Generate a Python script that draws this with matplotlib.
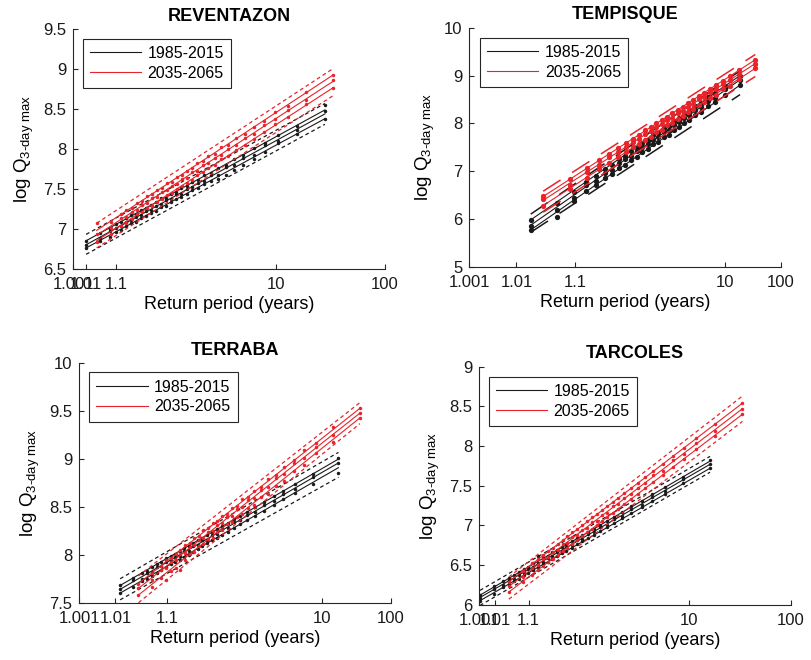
import matplotlib
matplotlib.use("Agg")
import matplotlib.pyplot as plt

plt.rcParams['font.family'] = ['Liberation Sans', 'DejaVu Sans']
plt.rcParams['mathtext.fontset'] = 'custom'
plt.rcParams['mathtext.rm'] = 'Liberation Sans'
plt.rcParams['mathtext.it'] = 'Liberation Sans:italic'
plt.rcParams['mathtext.bf'] = 'Liberation Sans:bold'

# Return-period tick labels (Gumbel-type probability axis, 0-100 = axis span)
period_labels = ['1.001', '1.01', '1.1', '10', '100']

# ---------------- REVENTAZON ----------------
rev_ticks = [0, 4.1, 13.7, 65.1, 100]
rev_hist_x = [4.1, 8.6, 11.8, 13.6, 15.3, 17.0, 18.6, 20.2, 21.8, 23.4, 25.0, 26.6, 28.2, 29.8, 31.4, 33.0,
              34.7, 36.4, 38.2, 40.0, 42.0, 44.1, 46.4, 48.9, 51.6, 54.6, 58.0, 61.5, 65.7, 71.7, 80.8]
rev_hist_hi = [6.85, 6.95, 7.00, 7.06, 7.08, 7.13, 7.17, 7.18, 7.24, 7.26, 7.30, 7.33, 7.38, 7.39, 7.44, 7.46,
               7.51, 7.53, 7.59, 7.61, 7.67, 7.70, 7.76, 7.80, 7.88, 7.92, 8.01, 8.07, 8.18, 8.29, 8.55]
rev_hist_mid = [6.80, 6.88, 6.97, 7.01, 7.03, 7.09, 7.11, 7.15, 7.17, 7.22, 7.24, 7.29, 7.31, 7.36, 7.37, 7.43,
                7.44, 7.50, 7.52, 7.58, 7.60, 7.67, 7.68, 7.77, 7.80, 7.89, 7.93, 8.05, 8.10, 8.24, 8.47]
rev_hist_lo = [6.76, 6.85, 6.90, 6.96, 6.98, 7.03, 7.07, 7.08, 7.13, 7.16, 7.20, 7.22, 7.27, 7.29, 7.33, 7.37,
               7.40, 7.43, 7.48, 7.51, 7.56, 7.60, 7.63, 7.68, 7.74, 7.80, 7.88, 7.96, 8.08, 8.19, 8.38]
rev_hist_fit_start = [6.85, 6.80, 6.76]
rev_hist_fit_end = [8.49, 8.44, 8.38]
rev_hist_ci_start = [6.93, 6.68]
rev_hist_ci_end = [8.57, 8.31]

rev_fut_x = [7.5, 12.0, 15.2, 17.0, 18.7, 20.4, 22.0, 23.6, 25.2, 26.8, 28.4, 30.0, 31.6, 33.2, 34.8, 36.4,
             38.1, 39.8, 41.6, 43.4, 45.4, 47.5, 49.8, 52.3, 55.0, 58.0, 61.3, 64.8, 68.9, 74.8, 83.5]
rev_fut_hi = [7.07, 7.09, 7.19, 7.24, 7.26, 7.32, 7.35, 7.41, 7.43, 7.49, 7.51, 7.57, 7.59, 7.65, 7.67, 7.73,
              7.76, 7.82, 7.85, 7.91, 7.94, 8.02, 8.05, 8.14, 8.19, 8.28, 8.35, 8.46, 8.54, 8.71, 8.93]
rev_fut_mid = [6.93, 7.01, 7.13, 7.15, 7.21, 7.24, 7.30, 7.32, 7.38, 7.40, 7.46, 7.48, 7.54, 7.56, 7.62, 7.64,
               7.71, 7.73, 7.80, 7.82, 7.89, 7.93, 8.00, 8.05, 8.14, 8.19, 8.30, 8.37, 8.49, 8.62, 8.86]
rev_fut_lo = [6.84, 6.94, 7.04, 7.07, 7.12, 7.18, 7.21, 7.26, 7.29, 7.34, 7.37, 7.42, 7.45, 7.50, 7.53, 7.58,
              7.61, 7.67, 7.71, 7.76, 7.80, 7.87, 7.91, 7.99, 8.05, 8.13, 8.21, 8.31, 8.40, 8.56, 8.77]
rev_fut_fit_start = [6.98, 6.92, 6.85]
rev_fut_fit_end = [8.93, 8.85, 8.77]
rev_fut_ci_start = [7.07, 6.76]
rev_fut_ci_end = [9.01, 8.67]

# ---------------- TEMPISQUE ----------------
tem_ticks = [0, 15.1, 34.0, 82.3, 100]
tem_hist_x = [19.7, 28.2, 33.6, 37.4, 40.6, 43.5, 45.9, 48.1, 50.0, 51.9, 53.8, 55.6, 57.3, 59.1, 60.7, 62.4,
              64.0, 65.6, 67.4, 69.1, 70.7, 72.6, 74.5, 76.7, 79.0, 82.0, 87.0]
tem_hist_hi = [5.98, 6.33, 6.56, 6.78, 6.90, 7.05, 7.13, 7.25, 7.32, 7.43, 7.49, 7.59, 7.65, 7.75, 7.80, 7.90,
               7.95, 8.05, 8.11, 8.20, 8.26, 8.36, 8.43, 8.55, 8.63, 8.79, 9.00]
tem_hist_mid = [5.85, 6.19, 6.44, 6.70, 6.80, 6.97, 7.03, 7.16, 7.25, 7.31, 7.42, 7.50, 7.56, 7.66, 7.71, 7.81,
                7.86, 7.96, 8.02, 8.11, 8.17, 8.27, 8.34, 8.46, 8.53, 8.71, 8.90]
tem_hist_lo = [5.77, 6.05, 6.38, 6.58, 6.71, 6.86, 6.94, 7.06, 7.13, 7.24, 7.30, 7.40, 7.46, 7.56, 7.61, 7.71,
               7.76, 7.86, 7.92, 8.01, 8.07, 8.17, 8.24, 8.36, 8.44, 8.60, 8.80]
tem_hist_fit_start = [5.98, 5.87, 5.77]
tem_hist_fit_end = [9.00, 8.91, 8.80]
tem_hist_ci_start = [6.10, 5.72]
tem_hist_ci_end = [9.10, 8.60]

tem_fut_x = [23.7, 32.3, 37.8, 41.6, 44.9, 47.8, 50.3, 52.5, 54.4, 56.3, 58.3, 60.1, 61.8, 63.6, 65.2, 67.0,
             68.6, 70.2, 72.0, 73.8, 75.4, 77.3, 79.2, 81.5, 83.8, 86.8, 91.9]
tem_fut_hi = [6.47, 6.83, 7.06, 7.23, 7.36, 7.49, 7.59, 7.68, 7.76, 7.85, 7.92, 8.00, 8.07, 8.14, 8.21, 8.28,
              8.35, 8.42, 8.49, 8.57, 8.64, 8.72, 8.80, 8.89, 8.99, 9.11, 9.32]
tem_fut_mid = [6.41, 6.70, 6.99, 7.12, 7.29, 7.41, 7.50, 7.61, 7.67, 7.77, 7.83, 7.93, 7.98, 8.07, 8.12, 8.21,
               8.26, 8.35, 8.40, 8.50, 8.55, 8.65, 8.71, 8.82, 8.90, 9.04, 9.24]
tem_fut_lo = [6.27, 6.62, 6.86, 7.04, 7.16, 7.30, 7.39, 7.50, 7.56, 7.66, 7.72, 7.82, 7.87, 7.96, 8.01, 8.10,
              8.15, 8.24, 8.29, 8.39, 8.44, 8.54, 8.60, 8.71, 8.79, 8.93, 9.15]
tem_fut_fit_start = [6.47, 6.39, 6.28]
tem_fut_fit_end = [9.33, 9.25, 9.15]
tem_fut_ci_start = [6.58, 6.14]
tem_fut_ci_end = [9.44, 8.98]

# ---------------- TERRABA ----------------
ter_ticks = [0, 11.6, 28.2, 77.8, 100]
ter_hist_x = [13.1, 17.2, 20.1, 21.8, 23.3, 24.9, 26.3, 27.8, 29.3, 30.7, 32.2, 33.6, 35.1, 36.6, 38.1, 39.5,
              41.1, 42.6, 44.2, 45.9, 47.7, 49.6, 51.7, 54.0, 56.5, 59.2, 62.4, 65.5, 69.4, 74.9, 83.2]
ter_hist_hi = [7.68, 7.76, 7.81, 7.83, 7.87, 7.90, 7.93, 7.97, 7.99, 8.01, 8.04, 8.07, 8.09, 8.12, 8.15, 8.18,
               8.21, 8.24, 8.27, 8.30, 8.33, 8.37, 8.41, 8.45, 8.50, 8.55, 8.61, 8.67, 8.74, 8.84, 9.01]
ter_hist_mid = [7.64, 7.74, 7.75, 7.81, 7.82, 7.87, 7.88, 7.93, 7.94, 7.98, 7.99, 8.04, 8.04, 8.09, 8.10, 8.15,
                8.16, 8.21, 8.22, 8.27, 8.28, 8.34, 8.36, 8.42, 8.45, 8.52, 8.56, 8.64, 8.69, 8.81, 8.96]
ter_hist_lo = [7.60, 7.66, 7.73, 7.75, 7.78, 7.81, 7.84, 7.87, 7.90, 7.92, 7.95, 7.98, 8.00, 8.03, 8.06, 8.09,
               8.12, 8.15, 8.18, 8.21, 8.24, 8.28, 8.32, 8.36, 8.41, 8.46, 8.52, 8.58, 8.65, 8.74, 8.85]
ter_hist_fit_start = [7.68, 7.64, 7.60]
ter_hist_fit_end = [9.00, 8.96, 8.91]
ter_hist_ci_start = [7.75, 7.53]
ter_hist_ci_end = [9.07, 8.81]

ter_fut_x = [19.0, 23.2, 26.1, 27.8, 29.4, 30.9, 32.4, 33.9, 35.4, 36.8, 38.3, 39.8, 41.3, 42.8, 44.3, 45.7,
             47.4, 48.9, 50.6, 52.3, 54.1, 56.0, 58.2, 60.5, 63.0, 65.8, 69.0, 72.2, 76.1, 81.6, 90.1]
ter_fut_hi = [7.70, 7.81, 7.88, 7.95, 7.97, 8.01, 8.05, 8.10, 8.12, 8.18, 8.20, 8.26, 8.28, 8.33, 8.35, 8.41,
              8.43, 8.49, 8.51, 8.58, 8.60, 8.67, 8.71, 8.79, 8.83, 8.92, 8.99, 9.09, 9.17, 9.33, 9.53]
ter_fut_mid = [7.65, 7.74, 7.84, 7.86, 7.93, 7.95, 8.01, 8.02, 8.08, 8.10, 8.16, 8.18, 8.24, 8.25, 8.31, 8.33,
               8.40, 8.41, 8.48, 8.50, 8.57, 8.59, 8.68, 8.71, 8.80, 8.84, 8.96, 9.01, 9.13, 9.25, 9.48]
ter_fut_lo = [7.58, 7.66, 7.76, 7.74, 7.83, 7.86, 7.84, 7.95, 8.01, 8.03, 8.09, 8.11, 8.17, 8.18, 8.24, 8.26,
              8.32, 8.34, 8.40, 8.43, 8.49, 8.52, 8.60, 8.64, 8.72, 8.77, 8.88, 8.94, 9.06, 9.18, 9.43]
ter_fut_fit_start = [7.70, 7.65, 7.58]
ter_fut_fit_end = [9.53, 9.48, 9.43]
ter_fut_ci_start = [7.78, 7.50]
ter_fut_ci_end = [9.59, 9.37]

# ---------------- TARCOLES ----------------
tar_ticks = [0, 5.1, 15.8, 67.3, 100]
tar_hist_x = [0.2, 4.6, 7.6, 9.4, 11.0, 12.6, 14.2, 15.7, 17.3, 18.7, 20.3, 21.9, 23.4, 25.0, 26.5, 28.0,
              29.7, 31.3, 33.0, 34.8, 36.7, 38.7, 40.9, 43.4, 45.9, 48.8, 52.2, 55.5, 59.5, 65.3, 74.1]
tar_hist_hi = [6.12, 6.23, 6.30, 6.34, 6.38, 6.41, 6.45, 6.48, 6.52, 6.62, 6.59, 6.62, 6.66, 6.69, 6.73, 6.76,
               6.80, 6.84, 6.88, 6.92, 6.96, 7.01, 7.06, 7.11, 7.17, 7.24, 7.31, 7.39, 7.48, 7.61, 7.82]
tar_hist_mid = [6.09, 6.20, 6.25, 6.31, 6.33, 6.38, 6.40, 6.45, 6.47, 6.52, 6.54, 6.59, 6.61, 6.66, 6.68, 6.73,
                6.75, 6.81, 6.83, 6.89, 6.91, 6.98, 7.01, 7.08, 7.12, 7.21, 7.26, 7.36, 7.43, 7.58, 7.77]
tar_hist_lo = [6.05, 6.13, 6.22, 6.26, 6.30, 6.33, 6.37, 6.40, 6.44, 6.47, 6.51, 6.54, 6.58, 6.61, 6.65, 6.68,
               6.72, 6.76, 6.80, 6.84, 6.88, 6.93, 6.98, 7.03, 7.09, 7.16, 7.23, 7.31, 7.40, 7.53, 7.72]
tar_hist_fit_start = [6.12, 6.09, 6.05]
tar_hist_fit_end = [7.81, 7.77, 7.72]
tar_hist_ci_start = [6.18, 5.99]
tar_hist_ci_end = [7.87, 7.67]

tar_fut_x = [9.5, 13.9, 17.0, 18.8, 20.5, 22.1, 23.7, 25.3, 26.8, 28.3, 29.9, 31.5, 33.1, 34.6, 36.2, 37.7,
             39.4, 41.1, 42.8, 44.6, 46.6, 48.6, 50.8, 53.3, 55.9, 58.9, 62.2, 65.6, 69.7, 75.6, 84.5]
tar_fut_hi = [6.29, 6.43, 6.52, 6.58, 6.63, 6.68, 6.72, 6.77, 6.82, 6.86, 6.91, 6.96, 7.00, 7.05, 7.10, 7.14,
              7.19, 7.24, 7.30, 7.35, 7.41, 7.47, 7.53, 7.61, 7.69, 7.77, 7.88, 7.98, 8.10, 8.28, 8.54]
tar_fut_mid = [6.23, 6.35, 6.46, 6.50, 6.57, 6.60, 6.66, 6.69, 6.76, 6.78, 6.85, 6.88, 6.94, 6.97, 7.04, 7.06,
               7.13, 7.16, 7.24, 7.27, 7.35, 7.39, 7.47, 7.53, 7.63, 7.69, 7.82, 7.90, 8.04, 8.19, 8.47]
tar_fut_lo = [6.16, 6.29, 6.38, 6.44, 6.49, 6.54, 6.58, 6.63, 6.68, 6.72, 6.77, 6.82, 6.86, 6.91, 6.96, 7.00,
              7.05, 7.10, 7.16, 7.21, 7.27, 7.33, 7.39, 7.47, 7.55, 7.63, 7.74, 7.84, 7.96, 8.13, 8.40]
tar_fut_fit_start = [6.29, 6.23, 6.16]
tar_fut_fit_end = [8.54, 8.47, 8.40]
tar_fut_ci_start = [6.35, 6.07]
tar_fut_ci_end = [8.63, 8.31]

HIST_COLOR = '#1a1a1a'
FUT_COLOR = '#e8232a'
AXIS_COLOR = '#262626'

panels = [
    dict(title='REVENTAZON', rect=[0.0904, 0.5929, 0.3840, 0.3627], ylim=(6.5, 9.5), ystep=0.5,
         ticks=rev_ticks, big=False, legend_anchor=(0.031, 0.96),
         hist=(rev_hist_x, [rev_hist_hi, rev_hist_mid, rev_hist_lo], rev_hist_fit_start, rev_hist_fit_end,
               rev_hist_ci_start, rev_hist_ci_end),
         fut=(rev_fut_x, [rev_fut_hi, rev_fut_mid, rev_fut_lo], rev_fut_fit_start, rev_fut_fit_end,
              rev_fut_ci_start, rev_fut_ci_end)),
    dict(title='TEMPISQUE', rect=[0.5789, 0.5959, 0.3835, 0.3621], ylim=(5, 10), ystep=1,
         ticks=tem_ticks, big=True, legend_anchor=(0.034, 0.958),
         hist=(tem_hist_x, [tem_hist_hi, tem_hist_mid, tem_hist_lo], tem_hist_fit_start, tem_hist_fit_end,
               tem_hist_ci_start, tem_hist_ci_end),
         fut=(tem_fut_x, [tem_fut_hi, tem_fut_mid, tem_fut_lo], tem_fut_fit_start, tem_fut_fit_end,
              tem_fut_ci_start, tem_fut_ci_end)),
    dict(title='TERRABA', rect=[0.0978, 0.0868, 0.3840, 0.3627], ylim=(7.5, 10), ystep=0.5,
         ticks=ter_ticks, big=False, legend_anchor=(0.032, 0.962),
         hist=(ter_hist_x, [ter_hist_hi, ter_hist_mid, ter_hist_lo], ter_hist_fit_start, ter_hist_fit_end,
               ter_hist_ci_start, ter_hist_ci_end),
         fut=(ter_fut_x, [ter_fut_hi, ter_fut_mid, ter_fut_lo], ter_fut_fit_start, ter_fut_fit_end,
              ter_fut_ci_start, ter_fut_ci_end)),
    dict(title='TARCOLES', rect=[0.5910, 0.0838, 0.3840, 0.3606], ylim=(6, 9), ystep=0.5,
         ticks=tar_ticks, big=False, legend_anchor=(0.031, 0.958),
         hist=(tar_hist_x, [tar_hist_hi, tar_hist_mid, tar_hist_lo], tar_hist_fit_start, tar_hist_fit_end,
               tar_hist_ci_start, tar_hist_ci_end),
         fut=(tar_fut_x, [tar_fut_hi, tar_fut_mid, tar_fut_lo], tar_fut_fit_start, tar_fut_fit_end,
              tar_fut_ci_start, tar_fut_ci_end)),
]


def draw_period(ax, data, color, label, big):
    x, members, fit0, fit1, ci0, ci1 = data
    span = [x[0], x[-1]]
    dash = (0, (13.5, 9.0)) if big else (0, (3.0, 2.4))
    ms = 3.8 if big else 2.5
    for a, b in zip(ci0, ci1):
        ax.plot(span, [a, b], color=color, lw=1.1 if big else 0.9, linestyle=dash)
    for i, (a, b) in enumerate(zip(fit0, fit1)):
        ax.plot(span, [a, b], color=color, lw=0.8, label=label if i == 0 else None)
    for y in members:
        ax.plot(x, y, linestyle='none', marker='o', ms=ms, mew=0, color=color)


fig = plt.figure(figsize=(8.11, 6.6), dpi=100)

for p in panels:
    ax = fig.add_axes(p['rect'])
    draw_period(ax, p['hist'], HIST_COLOR, '1985-2015', p['big'])
    draw_period(ax, p['fut'], FUT_COLOR, '2035-2065', p['big'])

    ax.set_xlim(0, 100)
    ax.set_ylim(*p['ylim'])
    ax.set_xticks(p['ticks'])
    ax.set_xticklabels(period_labels)
    lo, hi = p['ylim']
    n = int(round((hi - lo) / p['ystep']))
    yt = [lo + k * p['ystep'] for k in range(n + 1)]
    ax.set_yticks(yt)
    ax.set_yticklabels(['%g' % v for v in yt])

    for side in ('top', 'right'):
        ax.spines[side].set_visible(False)
    for side in ('left', 'bottom'):
        ax.spines[side].set_color(AXIS_COLOR)
        ax.spines[side].set_linewidth(0.8)
    ax.tick_params(direction='in', length=3.5, width=0.8, colors=AXIS_COLOR,
                   labelcolor='#1a1a1a', labelsize=12)
    ax.tick_params(axis='x', pad=6)
    ax.tick_params(axis='y', pad=5)

    ax.set_title(p['title'], fontsize=13, fontweight='bold', pad=6)
    ax.set_xlabel('Return period (years)', fontsize=13, labelpad=3)
    ax.set_ylabel(r'log Q$_{\mathregular{3\text{-}day\ max}}$', fontsize=13.5, labelpad=5)

    leg = ax.legend(loc='upper left', bbox_to_anchor=p['legend_anchor'], borderaxespad=0,
                    fontsize=11.5, handlelength=3.2, handletextpad=0.4, borderpad=0.45,
                    labelspacing=0.3, fancybox=False, framealpha=1)
    leg.get_frame().set_edgecolor(AXIS_COLOR)
    leg.get_frame().set_linewidth(0.8)

fig.savefig('out.png', dpi=100)
